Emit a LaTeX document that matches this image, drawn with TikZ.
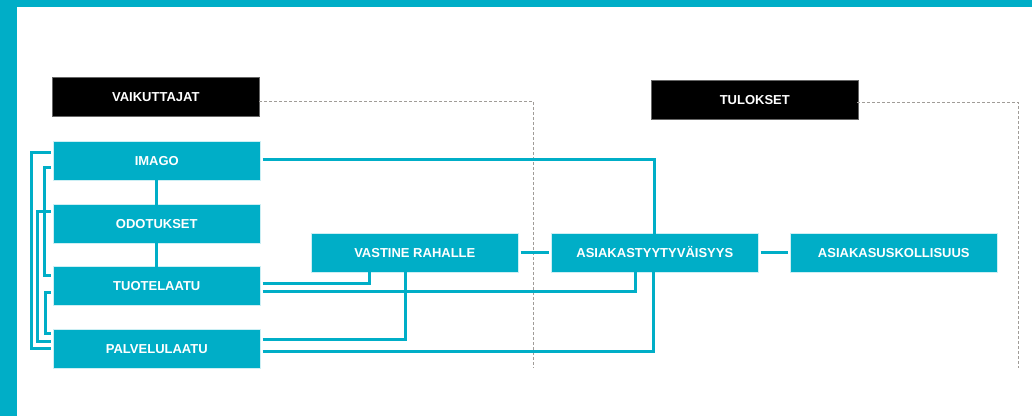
\documentclass[tikz,border=0pt]{standalone}
\usepackage{fontspec}
\setmainfont{Liberation Sans}
\definecolor{teal1}{RGB}{0,174,199}
\definecolor{dgray}{RGB}{160,156,152}
\begin{document}
\begin{tikzpicture}[x=1pt,y=-1pt,
  box/.style={fill=teal1,draw=white!80!teal1,line width=0.6pt,minimum width=207pt,minimum height=39pt,inner sep=0pt,text height=9.4pt,text depth=0pt,text=white,font=\fontsize{13}{15}\selectfont\bfseries,anchor=north west},
  head/.style={fill=black,draw=black!60,line width=0.6pt,minimum width=207pt,minimum height=39pt,inner sep=0pt,text height=9.4pt,text depth=0pt,text=white,font=\fontsize{13}{15}\selectfont\bfseries,anchor=north west},
  link/.style={draw=teal1,line width=3pt},
  frame/.style={draw=dgray,line width=1pt,dash pattern=on 3pt off 2pt}]
\useasboundingbox (0,0) rectangle (1032,416);
\fill[teal1] (0,0) rectangle (1032,7);
\fill[teal1] (0,0) rectangle (17,416);
% header boxes
\node[head] (vai) at (52,77) {VAIKUTTAJAT};
\node[head] (tul) at (651,80) {TULOKSET};
% dashed frames
\coordinate (f1a) at (259,101);
\coordinate (f1b) at (533,101);
\coordinate (f1c) at (533,368);
\coordinate (f2a) at (857,102);
\coordinate (f2b) at (1018,102);
\coordinate (f2c) at (1018,368);
\draw[frame] (f1a) -- (f1b) -- (f1c);
\draw[frame] (f2a) -- (f2b) -- (f2c);
% teal boxes
\node[box] (ima) at (53,141) {IMAGO};
\node[box] (odo) at (53,204) {ODOTUKSET};
\node[box] (tuo) at (53,266) {TUOTELAATU};
\node[box] (pal) at (53,329) {PALVELULAATU};
\node[box] (vas) at (311,233) {VASTINE RAHALLE};
\node[box] (asi) at (551,233) {ASIAKASTYYTYVÄISYYS};
\node[box] (usk) at (790,233) {ASIAKASUSKOLLISUUS};
% vertical links in left column
\draw[link] ([yshift=2pt]ima.south) -- ([yshift=-2pt]odo.north);
\draw[link] ([yshift=2pt]odo.south) -- ([yshift=-2pt]tuo.north);
% left brackets
\draw[link] ([xshift=-2pt]ima.west |- 0,152) -| (31,348) -- ([xshift=-2pt]pal.west |- 0,348);
\draw[link] ([xshift=-2pt]odo.west |- 0,211) -| (37,341) -- ([xshift=-2pt]pal.west |- 0,341);
\draw[link] ([xshift=-2pt]ima.west |- 0,167) -| (44,275) -- ([xshift=-2pt]tuo.west |- 0,275);
\draw[link] ([xshift=-2pt]tuo.west |- 0,292) -| (45,333) -- ([xshift=-2pt]pal.west |- 0,333);
% horizontal links
\draw[link] ([xshift=2pt]vas.east) -- ([xshift=-2pt]asi.west);
\draw[link] ([xshift=2pt]asi.east) -- ([xshift=-2pt]usk.west);
% links to right
\draw[link] ([xshift=2pt]ima.east |- 0,159) -| ([yshift=-2pt]asi.north -| 654,0);
\draw[link] ([xshift=2pt]tuo.east |- 0,283) -| ([yshift=2pt]vas.south -| 369,0);
\draw[link] ([xshift=2pt]tuo.east |- 0,291) -| ([yshift=2pt]asi.south -| 635,0);
\draw[link] ([xshift=2pt]pal.east |- 0,339) -| ([yshift=2pt]vas.south -| 405,0);
\draw[link] ([xshift=2pt]pal.east |- 0,351) -| ([yshift=2pt]asi.south -| 653,0);
\end{tikzpicture}
\end{document}
